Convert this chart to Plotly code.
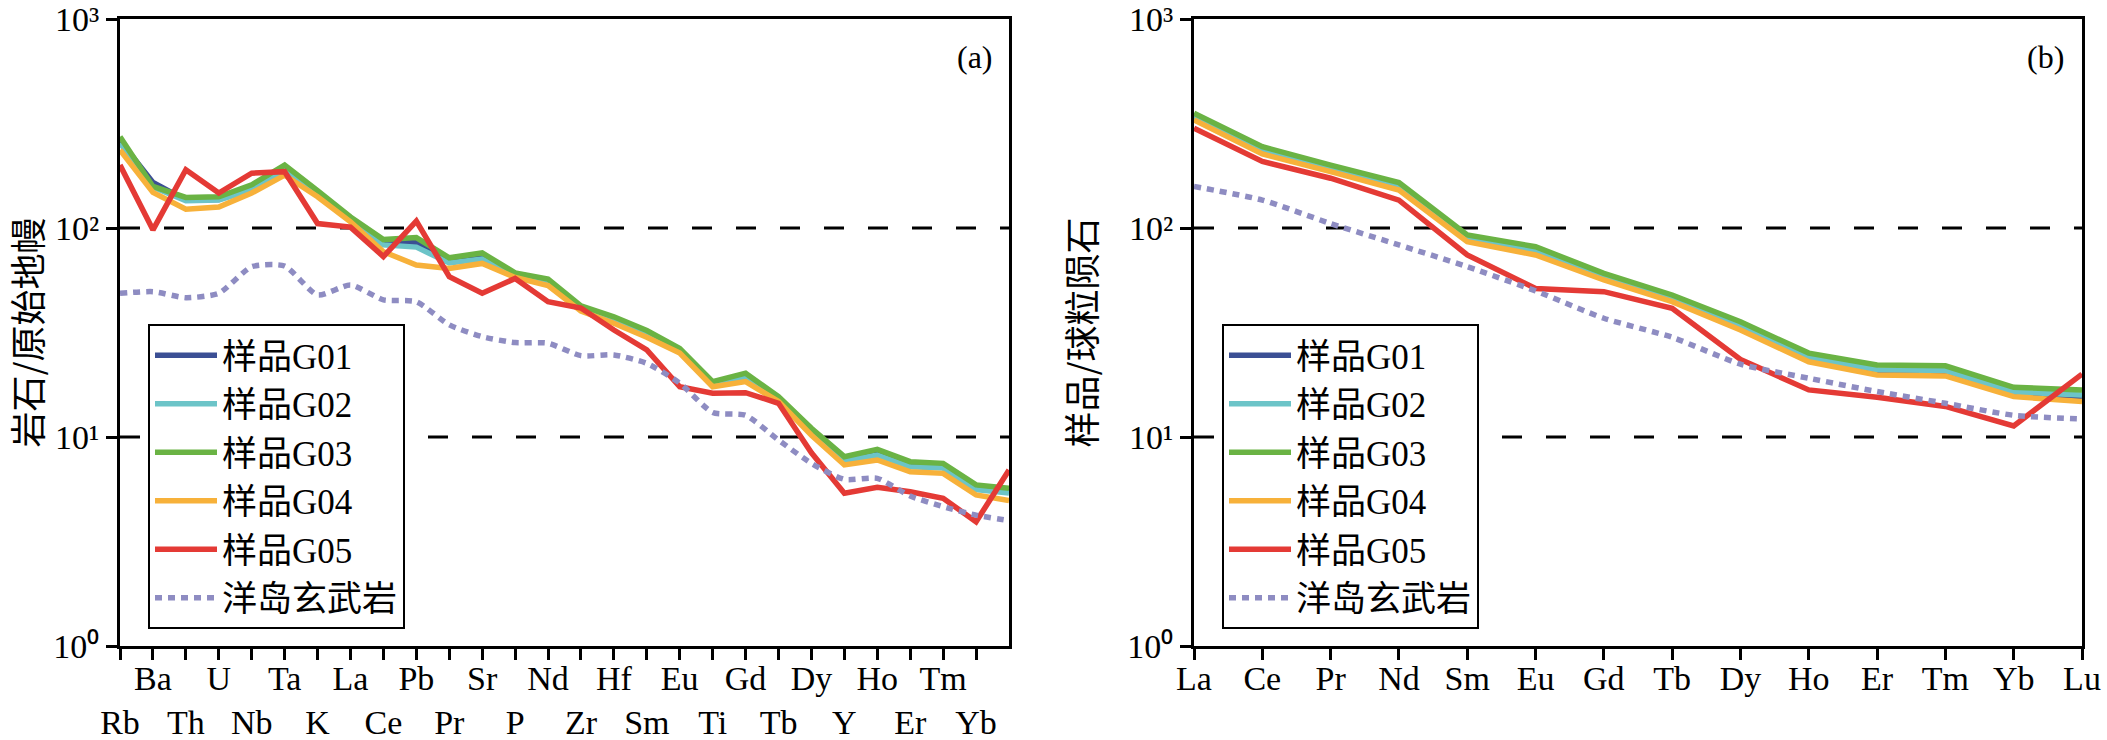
import plotly.graph_objects as go

# ---------------- data ----------------
spider_elems = ["Rb", "Ba", "Th", "U", "Nb", "Ta", "K", "La", "Ce", "Pb", "Pr", "Sr", "P", "Nd",
                "Zr", "Hf", "Sm", "Eu", "Ti", "Gd", "Tb", "Dy", "Y", "Ho", "Er", "Tm", "Yb", "Lu"]
ree_elems = ["La", "Ce", "Pr", "Nd", "Sm", "Eu", "Gd", "Tb", "Dy", "Ho", "Er", "Tm", "Yb", "Lu"]

series_names = ["样品G01", "样品G02", "样品G03", "样品G04", "样品G05", "洋岛玄武岩"]

pm_G01 = [262, 165, 136, 137, 155, 186, 147, 111, 85, 85, 69, 72, 60, 55.5, 41.5, 36.5, 31.5, 26,
          18, 19.5, 15.3, 10.7, 7.8, 8.4, 7.4, 7.3, 5.7, 5.55]
pm_G02 = [255, 157, 135, 136, 152, 190, 146, 110, 83, 81, 68, 71, 59, 55, 41, 36, 31, 25.8,
          17.8, 19.3, 15.2, 10.6, 7.7, 8.2, 7.2, 7.1, 5.6, 5.4]
pm_G03 = [273, 158, 140, 141, 161, 200, 151, 113, 88, 90, 72, 76, 61, 57, 42.4, 37.6, 32.3, 26.5,
          18.4, 20.2, 15.6, 11.0, 8.05, 8.73, 7.62, 7.48, 5.9, 5.68]
pm_G04 = [236, 148, 123, 126, 147, 179, 141, 107, 77, 66.5, 64, 67.7, 58, 53, 40, 35, 30, 25.2,
          17.4, 18.4, 14.8, 10.2, 7.35, 7.76, 6.82, 6.7, 5.28, 4.96]
pm_G05 = [200, 98, 190, 147, 183, 186, 105, 101, 73, 108, 58.5, 48.7, 57.4, 44.4, 41.4, 32.5, 26.1,
          17.4, 16.2, 16.3, 14.5, 8.4, 5.38, 5.75, 5.47, 5.09, 3.93, 6.95]
pm_OIB = [48.7, 49.6, 46.4, 48.7, 65.3, 65.8, 47.8, 53.4, 45.3, 44.4, 34.4, 30.2, 28.3, 28.1, 24.5,
          24.7, 22.5, 18.1, 13.1, 12.7, 9.67, 7.48, 6.27, 6.34, 5.22, 4.64, 4.23, 3.98]

ch_G01 = [338, 235, 192, 157, 88.5, 77.5, 58, 45.8, 33.8, 23.8, 20.8, 20.6, 16.2, 15.6]
ch_G02 = [340, 236, 193, 158, 89, 78, 58.5, 46, 34, 24, 21, 20.8, 16.4, 15.9]
ch_G03 = [354, 245, 200, 165, 92.6, 81.4, 60.7, 47.8, 35.6, 25.2, 22.1, 21.9, 17.3, 16.8]
ch_G04 = [329, 226, 186, 152, 86, 74.3, 56.4, 44.4, 32.5, 22.9, 19.8, 19.6, 15.6, 14.8]
ch_G05 = [300, 208, 173, 136, 74.3, 51.4, 49.6, 41.3, 23.5, 16.8, 15.5, 14.0, 11.3, 20.0]
ch_OIB = [158, 136, 105, 83, 65.3, 50, 37, 30, 22.3, 19.1, 16.5, 14.5, 12.7, 12.2]

colors = ["#3b4f94", "#6cc4c8", "#6ab344", "#f7b13a", "#e43a35", "#8e8cc2"]

y_tickvals = [1, 10, 100, 1000]
y_ticktext = ["10\u2070", "10\u00b9", "10\u00b2", "10\u00b3"]

# ---------------- figure ----------------
W, H = 2107, 740
SERIF = "Liberation Serif, Noto Sans CJK SC"
CJK = "Noto Sans CJK SC"

fig = go.Figure()

pm_sets = [pm_G01, pm_G02, pm_G03, pm_G04, pm_G05, pm_OIB]
ch_sets = [ch_G01, ch_G02, ch_G03, ch_G04, ch_G05, ch_OIB]

xa = list(range(len(spider_elems)))
xb = list(range(len(ree_elems)))

for i, (name, vals) in enumerate(zip(series_names, pm_sets)):
    is_oib = i == 5
    fig.add_trace(go.Scatter(
        x=xa, y=vals, mode="lines", name=name, xaxis="x", yaxis="y", legend="legend",
        line=dict(color=colors[i], width=5.5, dash="7px,6px" if is_oib else "solid",
                  shape="spline" if is_oib else "linear", smoothing=0.6),
        showlegend=True))

for i, (name, vals) in enumerate(zip(series_names, ch_sets)):
    is_oib = i == 5
    fig.add_trace(go.Scatter(
        x=xb, y=vals, mode="lines", name=name, xaxis="x2", yaxis="y2", legend="legend2",
        line=dict(color=colors[i], width=5.5, dash="7px,6px" if is_oib else "solid",
                  shape="spline" if is_oib else "linear", smoothing=0.6),
        showlegend=True))

# tick labels on two rows for the spider diagram
spider_ticktext = []
for k, e in enumerate(spider_elems[:-1]):
    spider_ticktext.append(e if k % 2 == 1 else "<br>" + e)

axis_common = dict(showline=True, linewidth=3, linecolor="black", mirror=True,
                   ticks="outside", ticklen=11, tickwidth=3, tickcolor="black",
                   showgrid=False, zeroline=False, automargin=False, tickangle=0,
                   ticklabeloverflow="allow",
                   tickfont=dict(family=SERIF, size=34, color="black"))

xa_l, xa_r = 120 / W, 1009 / W
xb_l, xb_r = 1194 / W, 2082 / W
y_b, y_t = 1 - 646 / H, 1 - 19 / H

legend_common = dict(xanchor="left", yanchor="top", bgcolor="white", bordercolor="black",
                     borderwidth=2, font=dict(family=SERIF, size=35, color="black"),
                     itemwidth=62, tracegroupgap=0)

fig.update_layout(
    width=W, height=H,
    margin=dict(l=0, r=0, t=0, b=0, autoexpand=False),
    paper_bgcolor="white", plot_bgcolor="white",
    xaxis=dict(domain=[xa_l, xa_r], range=[0, len(spider_elems) - 1], anchor="y",
               tickvals=list(range(len(spider_elems) - 1)), ticktext=spider_ticktext,
               ticklabelstandoff=-11, **axis_common),
    yaxis=dict(domain=[y_b, y_t], type="log", range=[0, 3], anchor="x",
               tickvals=y_tickvals, ticktext=y_ticktext,
               title=dict(text="岩石/原始地幔", font=dict(family=CJK, size=36, color="black"),
                          standoff=20),
               **axis_common),
    xaxis2=dict(domain=[xb_l, xb_r], range=[0, len(ree_elems) - 1], anchor="y2",
                tickvals=xb, ticktext=ree_elems, ticklabelstandoff=-11, **axis_common),
    yaxis2=dict(domain=[y_b, y_t], type="log", range=[0, 3], anchor="x2",
                tickvals=y_tickvals, ticktext=y_ticktext,
                title=dict(text="样品/球粒陨石", font=dict(family=CJK, size=36, color="black"),
                           standoff=20),
                **axis_common),
    legend=dict(x=148 / W, y=1 - 324 / H, **legend_common),
    legend2=dict(x=1222 / W, y=1 - 324 / H, **legend_common),
    showlegend=True,
)

# reference dashed lines at 10 and 100
for yref, xref in (("y", "x"), ("y2", "x2")):
    for v in (10, 100):
        fig.add_shape(type="line", xref=xref + " domain", yref=yref, x0=0, x1=1, y0=v, y1=v,
                      line=dict(color="black", width=3, dash="20px,24px"), layer="below")

fig.add_annotation(text="(a)", xref="paper", yref="paper", x=975 / W, y=1 - 57 / H,
                   xanchor="center", yanchor="middle",
                   showarrow=False, font=dict(family=SERIF, size=32, color="black"))
fig.add_annotation(text="(b)", xref="paper", yref="paper", x=2045 / W, y=1 - 57 / H,
                   xanchor="center", yanchor="middle",
                   showarrow=False, font=dict(family=SERIF, size=32, color="black"))

fig.write_html("out.html")
